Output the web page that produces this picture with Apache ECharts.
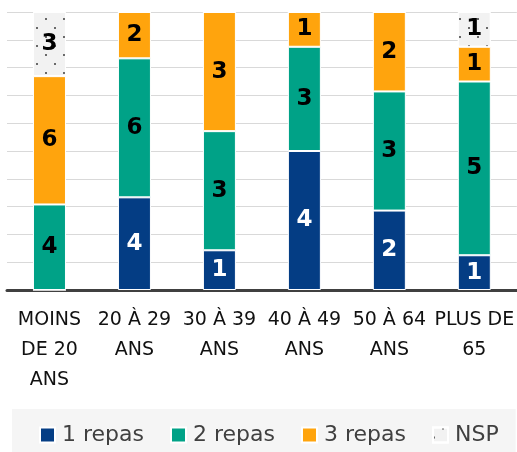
<!DOCTYPE html>
<html>
<head>
<meta charset="utf-8">
<script src="https://cdn.jsdelivr.net/npm/echarts@6/dist/echarts.min.js"></script>
<style>
  html, body { margin: 0; padding: 0; background: #fff; }
  #chart { width: 517px; height: 452px; }
</style>
</head>
<body>
<div id="chart"></div>
<script>
// age groups and counts of answers per series
const categories = ['MOINS\nDE 20\nANS', '20 À 29\nANS', '30 À 39\nANS', '40 À 49\nANS', '50 À 64\nANS', 'PLUS DE\n65']
const seriesNames = ['1 repas', '2 repas', '3 repas', 'NSP']
const repas1 = [0, 4, 1, 4, 2, 1]
const repas2 = [4, 6, 3, 3, 3, 5]
const repas3 = [6, 2, 3, 1, 2, 1]
const nsp = [3, 0, 0, 0, 0, 1]
const yTicks = [0, 10, 20, 30, 40, 50, 60, 70, 80, 90, 100]

const colors = ['#043d84', '#00a287', '#ffa40d', '#f2f2f2']
const labelColors = ['#fff', '#000', '#000', '#000']

const counts = [repas1, repas2, repas3, nsp]
const totals = categories.map((c, i) => counts.reduce((s, arr) => s + arr[i], 0))

const chart = echarts.init(document.getElementById('chart'))

const nspDecal = {
  symbol: 'rect',
  symbolSize: 1,
  color: 'rgba(90,90,90,0.9)',
  dashArrayX: [[2, 16], [0, 9, 2, 7]],
  dashArrayY: [2, 6.5],
  rotation: 0,
}

const series = counts.map((arr, k) => {
  const itemStyle = {
    color: colors[k],
    borderColor: '#fff',
    borderWidth: 1,
  }
  if (k === 3) itemStyle.decal = nspDecal
  return {
    name: seriesNames[k],
    type: 'bar',
    stack: 'total',
    barWidth: 33,
    data: arr.map((v, i) => ({ value: (v / totals[i]) * 100, count: v })),
    itemStyle: itemStyle,
    label: {
      show: true,
      position: 'inside',
      color: labelColors[k],
      fontFamily: 'DejaVu Sans',
      fontWeight: 'bold',
      fontSize: 23,
      formatter: p => (p.data.count ? p.data.count : ''),
    },
  }
})

chart.setOption({
  animation: false,
  grid: {
    left: 7,
    right: -2,
    top: 12,
    bottom: 162,
  },
  xAxis: {
    type: 'category',
    data: categories,
    axisTick: { show: false },
    axisLine: { lineStyle: { color: '#404040', width: 3 } },
    axisLabel: {
      interval: 0,
      margin: 15,
      color: '#111',
      fontFamily: 'DejaVu Sans',
      fontSize: 19,
      lineHeight: 30,
    },
  },
  yAxis: {
    type: 'value',
    min: yTicks[0],
    max: yTicks[yTicks.length - 1],
    interval: yTicks[1] - yTicks[0],
    axisLabel: { show: false },
    axisLine: { show: false },
    axisTick: { show: false },
    splitLine: { lineStyle: { color: '#d9d9d9', width: 1 } },
  },
  legend: {
    data: seriesNames,
    left: 12,
    top: 409,
    padding: [15, 17, 8, 27],
    backgroundColor: '#f5f5f5',
    itemWidth: 15,
    itemHeight: 15,
    itemGap: 26,
    icon: 'rect',
    textStyle: {
      color: '#404040',
      fontFamily: 'DejaVu Sans',
      fontSize: 22,
      padding: [0, 0, 0, 2],
    },
  },
  series: series,
})
</script>
</body>
</html>
